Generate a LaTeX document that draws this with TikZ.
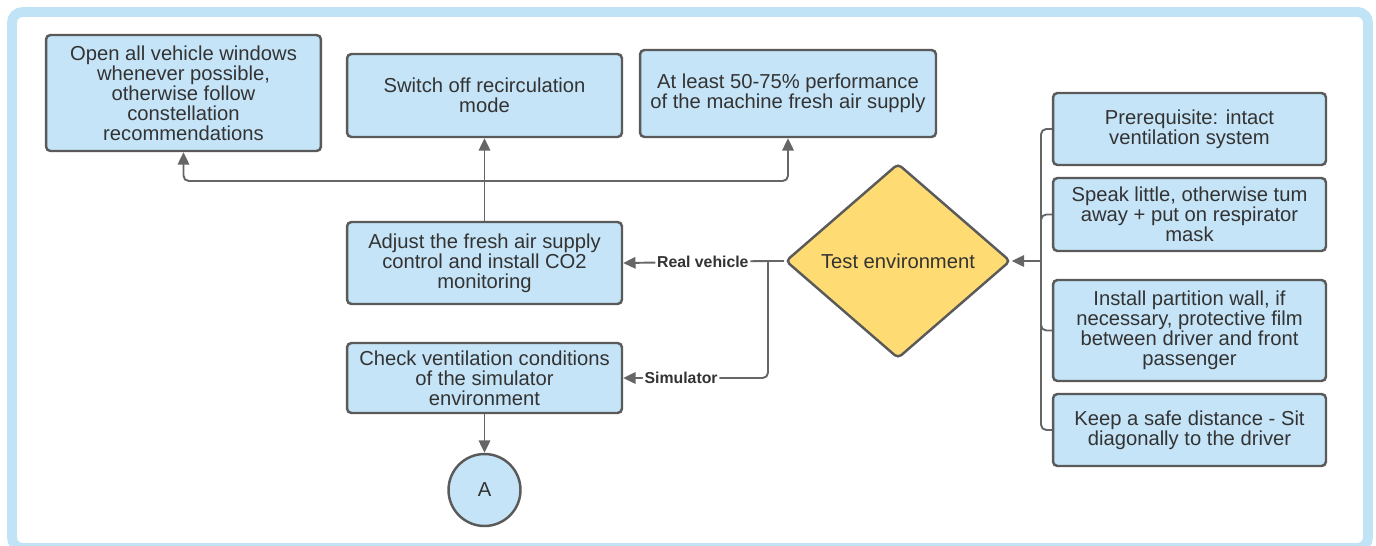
\documentclass[tikz,border=0pt]{standalone}
\usepackage{fontspec}
\setmainfont{Liberation Sans}
\usetikzlibrary{shapes.geometric,arrows.meta}
\definecolor{boxblue}{HTML}{C5E4F7}
\definecolor{boxedge}{HTML}{5A5A5A}
\definecolor{diayellow}{HTML}{FFDC73}
\definecolor{framebl}{HTML}{C0E3F6}
\definecolor{linegray}{HTML}{666666}
\definecolor{txt}{HTML}{333333}

\begin{document}
\begin{tikzpicture}[x=0.02cm, y=-0.02cm,
  font=\fontsize{11.5}{11.4}\selectfont,
  box/.style={draw=boxedge, line width=1.4pt, fill=boxblue, rounded corners=2.5pt,
    align=center, text=txt, minimum width=5.5cm, inner sep=2pt},
  flow/.style={draw=linegray, line width=1.1pt, rounded corners=3pt,
    -{Triangle[length=7pt,width=6.5pt]}},
  link/.style={draw=linegray, line width=1.1pt, rounded corners=3pt},
  lbl/.style={fill=white, text=txt, inner sep=1pt,
    font=\fontsize{9}{10}\selectfont\bfseries}]
 \useasboundingbox (0,0) rectangle (1376,545);
 % frame
 \draw[framebl, line width=5.6pt, rounded corners=6pt] (12,12) rectangle (1368,548);
 % top row
 \node[box, minimum height=2.32cm] (windows) at (183.5,93)
   {Open all vehicle windows\\whenever possible,\\otherwise follow\\constellation\\recommendations};
 \node[box, minimum height=1.66cm] (recirc) at (484.5,95.5)
   {Switch off recirculation\\mode};
 \node[box, minimum width=5.92cm, minimum height=1.74cm] (freshair) at (788,93.5)
   {At least 50-75\% performance\\of the machine fresh air supply};
 % middle column
 \node[box, minimum height=1.64cm] (adjust) at (484.5,263)
   {Adjust the fresh air supply\\control and install CO2\\monitoring};
 \node[box, minimum height=1.4cm] (check) at (484.5,378)
   {Check ventilation conditions\\of the simulator\\environment};
 \node[circle, draw=boxedge, line width=1.4pt, fill=boxblue, text=txt,
   minimum size=1.44cm, inner sep=0pt] (A) at (484.5,490) {A};
 % decision
 \node[diamond, draw=boxedge, line width=1.4pt, fill=diayellow, text=txt,
   rounded corners=2.5pt, minimum width=4.5cm, minimum height=3.9cm,
   inner sep=0pt] (testenv) at (898,261) {Test environment};
 % right column
 \node[box, minimum width=5.46cm, minimum height=1.44cm] (prereq) at (1189.5,129)
   {Prerequisite: intact\\ventilation system};
 \node[box, minimum width=5.46cm, minimum height=1.46cm] (speak) at (1189.5,214.5)
   {Speak little, otherwise tum\\away + put on respirator\\mask};
 \node[box, minimum width=5.46cm, minimum height=2.02cm] (partition) at (1189.5,330.5)
   {Install partition wall, if\\necessary, protective film\\between driver and front\\passenger};
 \node[box, minimum width=5.46cm, minimum height=1.44cm] (distance) at (1189.5,430)
   {Keep a safe distance - Sit\\diagonally to the driver};

 % connectors
 \coordinate (split) at (484.5,181);
 \draw[flow] (adjust.north) -- (recirc.south);
 \draw[flow] (split) -| (windows.south);
 \draw[flow] (split) -| (freshair.south);
 \coordinate (fork) at (768,261);
 \draw[link] (testenv.west) -- (fork);
 \draw[flow] (fork) -- node[lbl, pos=0.45] {Real vehicle} (adjust.east);
 \draw[flow] (fork) |- node[lbl, pos=0.8] {Simulator} (check.east);
 \draw[flow] (check.south) -- (A.north);
 \coordinate (bracket) at (1041,261);
 \draw[link] (prereq.west) -| (bracket) |- (distance.west);
 \draw[link] (speak.west) -| (bracket);
 \draw[link] (partition.west) -| (bracket);
 \draw[flow] (bracket) -- (testenv.east);
\end{tikzpicture}
\end{document}
